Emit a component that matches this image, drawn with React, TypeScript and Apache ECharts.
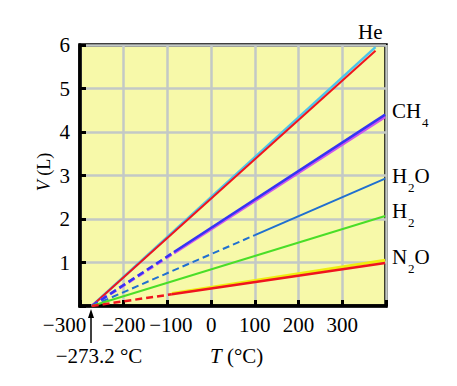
import React, { useEffect, useRef } from "react";
import * as echarts from "echarts";

const FONT = "Liberation Serif, Times New Roman, Times, serif";

// x: temperature (°C), y: volume (L)
const ABS_ZERO = -273.2;
const xTicks = [-300, -200, -100, 0, 100, 200, 300];
const yTicks = [1, 2, 3, 4, 5, 6];

const heCyan = [[ABS_ZERO, 0], [376, 5.95]];
const heRed = [[ABS_ZERO, 0], [376, 5.87]];
const ch4MagentaDash = [[ABS_ZERO, 0], [-85, 1.22]];
const ch4MagentaSolid = [[-85, 1.22], [398, 4.35]];
const ch4BlueDash = [[ABS_ZERO, 0], [-85, 1.24]];
const ch4BlueSolid = [[-85, 1.24], [398, 4.4]];
const h2oDash = [[ABS_ZERO, 0], [100, 1.63]];
const h2oSolid = [[100, 1.63], [398, 2.93]];
const h2Line = [[ABS_ZERO, 0], [398, 2.07]];
const n2oYellow = [[-90, 0.29], [398, 1.05]];
const n2oRedDash = [[ABS_ZERO, 0], [-90, 0.27]];
const n2oRedSolid = [[-90, 0.27], [398, 0.99]];

function line(data: number[][], color: string, width: number, dashed = false) {
  return {
    type: "line",
    data,
    symbol: "none",
    silent: true,
    lineStyle: { color, width, type: dashed ? [7, 4] : "solid", cap: "butt" },
  };
}

export default function App() {
  const ref = useRef<HTMLDivElement>(null);
  useEffect(() => {
    if (!ref.current) return;
    const chart = echarts.init(ref.current, null, { renderer: "svg" });
    const txt = (x: number, y: number, text: string, size: number, align = "left") => ({
      type: "text",
      x,
      y,
      style: { text, fontSize: size, fontFamily: FONT, fill: "#000", align, verticalAlign: "middle" },
    });
    chart.setOption({
      animation: false,
      backgroundColor: "#ffffff",
      textStyle: { fontFamily: FONT },
      grid: {
        left: 80,
        top: 45,
        right: 71,
        bottom: 80,
        show: true,
        backgroundColor: "#f7f9a9",
        borderColor: "#000",
        borderWidth: 3.5,
      },
      xAxis: {
        type: "value",
        min: -300,
        max: 400,
        interval: 100,
        axisLine: { show: true, onZero: false, lineStyle: { color: "#000", width: 3.5 } },
        axisTick: { show: true, inside: true, length: 6, lineStyle: { color: "#000", width: 3 } },
        splitLine: { show: true, lineStyle: { color: "#c3c9c6", width: 2.5 } },
        axisLabel: {
          margin: 8,
          fontSize: 21,
          fontFamily: FONT,
          color: "#000",
          formatter: (v: number) => {
            if (!xTicks.includes(v)) return "";
            const s = v < 0 ? "\u2212" + Math.abs(v) : String(v);
            if (v === -300) return "{a|" + s + "}";
            if (v === -100) return "{b|" + s + "}";
            return s;
          },
          rich: {
            a: { fontSize: 21, fontFamily: FONT, color: "#000", padding: [0, 31, 0, 0] },
            b: { fontSize: 21, fontFamily: FONT, color: "#000", padding: [0, 0, 0, 7] },
          },
        },
      },
      yAxis: {
        type: "value",
        min: 0,
        max: 6,
        interval: 1,
        axisLine: { show: true, onZero: false, lineStyle: { color: "#000", width: 3.5 } },
        axisTick: { show: true, inside: true, length: 6, lineStyle: { color: "#000", width: 3 } },
        splitLine: { show: true, lineStyle: { color: "#c3c9c6", width: 2.5 } },
        axisLabel: {
          margin: 10,
          fontSize: 21,
          fontFamily: FONT,
          color: "#000",
          formatter: (v: number) => (yTicks.includes(v) ? String(v) : ""),
        },
      },
      series: [
        line(heCyan, "#4cc4ec", 2.5),
        line(heRed, "#f0141e", 2),
        line(ch4MagentaDash, "#cc55ee", 3, true),
        line(ch4MagentaSolid, "#cc55ee", 3),
        line(ch4BlueDash, "#3434f4", 2.5, true),
        line(ch4BlueSolid, "#3434f4", 2.5),
        line(h2oDash, "#2070d0", 2, true),
        line(h2oSolid, "#2070d0", 2),
        line(h2Line, "#4ade28", 2),
        line(n2oYellow, "#eeee10", 3),
        line(n2oRedDash, "#f0141e", 2.5, true),
        line(n2oRedSolid, "#f0141e", 2.5),
      ],
      graphic: [
        txt(358, 32, "He", 21),
        txt(392, 111, "CH", 21),
        txt(422, 122, "4", 13),
        txt(392, 176, "H", 21),
        txt(408, 187, "2", 13),
        txt(414.5, 176, "O", 21),
        txt(392, 211, "H", 21),
        txt(408, 222, "2", 13),
        txt(392, 257, "N", 21),
        txt(408, 268, "2", 13),
        txt(414.5, 257, "O", 21),
        txt(99, 356, "\u2212273.2 \u00b0C", 21, "center"),
        {
          type: "text",
          x: 236.7,
          y: 356,
          style: {
            text: "{i|T} (\u00b0C)",
            fontSize: 21,
            fontFamily: FONT,
            fill: "#000",
            align: "center",
            verticalAlign: "middle",
            rich: { i: { fontStyle: "italic", fontSize: 21, fontFamily: FONT, fill: "#000" } },
          },
        },
        {
          type: "text",
          x: 43.5,
          y: 172,
          rotation: Math.PI / 2,
          style: {
            text: "{i|V} (L)",
            fontSize: 18,
            fontFamily: FONT,
            fill: "#000",
            align: "center",
            verticalAlign: "middle",
            rich: { i: { fontStyle: "italic", fontSize: 18, fontFamily: FONT, fill: "#000" } },
          },
        },
        {
          type: "line",
          shape: { x1: 91, y1: 343, x2: 91, y2: 316 },
          style: { stroke: "#000", lineWidth: 1.5 },
        },
        {
          type: "polygon",
          shape: { points: [[91, 309], [88, 318], [94, 318]] },
          style: { fill: "#000" },
        },
      ],
    });
    return () => chart.dispose();
  }, []);
  return <div ref={ref} style={{ position: "fixed", left: 0, top: 0, width: 457, height: 386 }} />;
}
